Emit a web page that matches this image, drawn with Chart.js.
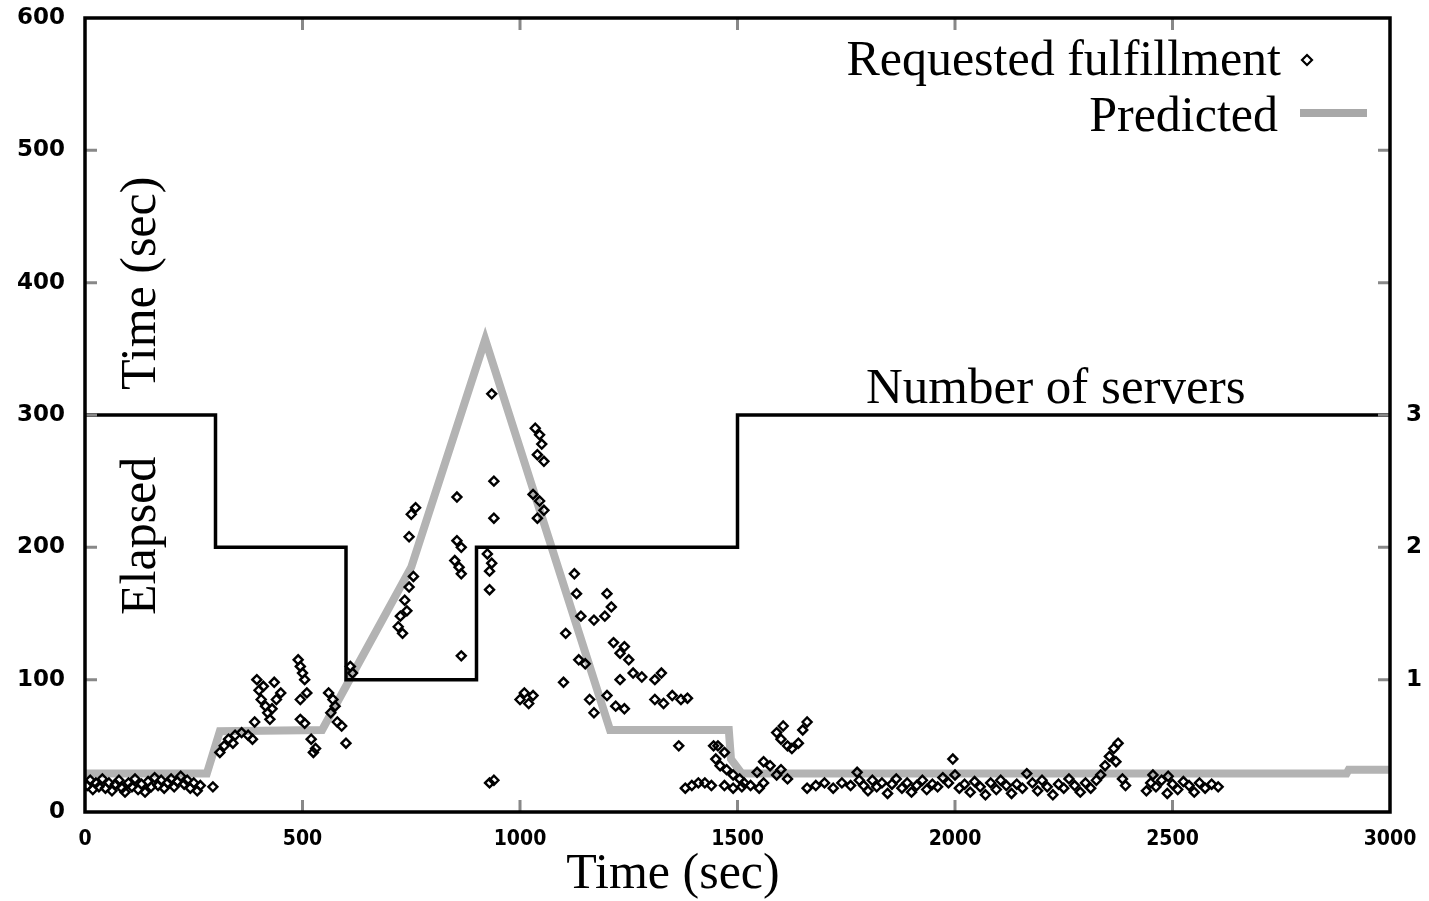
<!DOCTYPE html>
<html>
  <head>
    <meta charset="UTF-8" />
    <title>Elapsed time</title>
    <script src="https://cdn.jsdelivr.net/npm/chart.js"></script>
    <style>
      html, body { margin: 0; padding: 0; background: #fff; }
    </style>
  </head>
  <body>
    <canvas id="chart" width="1429" height="901"></canvas>

    <script>
      // requested fulfillment: [time (sec), elapsed (sec)]
      const requestedPoints = [
        [5,20],[12,24],[18,17],[25,22],[32,19],[40,25],[47,18],[55,22],[62,16],[70,21],[78,24],[85,18],
        [92,15],[100,22],[108,19],[115,25],[122,17],[130,21],[138,15],[145,23],[152,19],[160,26],[168,20],
        [175,24],[182,18],[190,22],[198,25],[205,19],[212,23],[220,27],[228,21],[235,24],[242,18],[250,22],
        [258,16],[265,20],[294,19],
        [310,45],[320,50],[330,55],[345,58],[360,60],[375,58],[385,55],[340,52],
        [390,68],[395,100],[400,92],[405,85],[410,95],[415,80],[420,75],[425,70],[430,78],[440,85],[450,90],[435,98],
        [490,115],[495,110],[500,105],[505,100],[510,90],[495,85],[495,70],[505,67],
        [520,55],[530,48],[525,45],
        [560,90],[570,85],[575,80],[565,75],[580,68],[590,65],
        [600,52],[610,110],[615,105],
        [720,140],[725,148],[730,135],[735,160],[740,152],[745,170],[755,178],[745,208],[750,225],[760,230],
        [855,238],[855,205],[865,200],[850,190],[860,185],[865,180],[865,118],
        [935,316],[940,250],[940,222],[925,195],[935,188],[930,182],[930,168],[930,22],[940,24],
        [1000,85],[1010,90],[1020,82],[1030,88],
        [1035,290],[1045,285],[1050,278],[1040,270],[1055,265],
        [1030,240],[1045,235],[1055,228],[1040,222],
        [1125,180],[1130,165],[1200,165],[1210,155],[1140,148],[1170,145],[1195,148],[1105,135],
        [1215,128],[1230,120],[1250,115],[1240,125],[1135,115],[1150,112],[1100,98],
        [1230,100],[1260,105],[1280,102],[1310,100],[1325,105],
        [1160,85],[1170,75],[1200,88],[1220,80],[1240,78],
        [1310,85],[1330,82],[1350,88],[1370,85],[1385,86],
        [1365,50],[1455,50],[1470,45],
        [1380,18],[1395,20],[1410,22],[1425,22],[1440,20],
        [1445,50],[1450,40],[1460,35],[1475,32],[1490,28],[1505,25],[1515,22],
        [1470,20],[1490,18],[1510,19],[1530,20],[1550,18],[1560,22],
        [1545,30],[1560,38],[1575,35],[1590,28],[1600,32],[1615,25],
        [1590,60],[1600,55],[1605,65],[1615,50],[1625,48],[1640,52],[1650,62],[1660,68],
        [1660,18],[1680,20],[1700,22],[1720,18],[1740,22],[1760,20],[1780,24],[1775,30],
        [1790,20],[1800,16],[1810,24],[1820,19],[1832,22],[1845,14],[1855,21],[1865,25],[1878,18],[1890,22],
        [1900,15],[1912,20],[1925,24],[1935,17],[1948,21],[1960,19],[1972,26],[1985,22],[1995,40],[2000,28],
        [2010,18],[2022,21],[2035,15],[2045,23],[2058,19],[2070,13],[2082,22],[2095,17],[2105,24],[2118,20],
        [2130,14],[2142,21],[2155,18],[2165,29],[2178,22],[2190,16],[2200,24],[2212,19],[2225,13],[2238,21],
        [2250,18],[2262,25],[2275,20],[2288,15],[2300,22],[2312,18],[2325,24],[2335,28],[2345,35],[2355,42],
        [2365,48],[2375,52],[2370,38],[2385,25],[2392,20],[2440,16],[2450,22],[2462,19],[2475,24],[2488,14],
        [2500,21],[2512,17],[2525,23],[2538,20],[2550,15],[2562,22],[2575,18],[2590,21],[2605,19],[2455,28],[2490,27]
      ];

      const predictedTimes = [0, 280, 310, 545, 600, 750, 920, 1207, 1480, 1485, 1510, 2900, 2905, 3000];
      const predictedValues = [29, 29, 61, 62, 95, 185, 357, 62, 62, 40, 29, 29, 32, 32];

      const serverTimes = [0, 300, 600, 900, 1500, 3000];
      const serverCounts = [3, 2, 1, 2, 3, 3];

      const xTicks = [0, 500, 1000, 1500, 2000, 2500, 3000];
      const yTicks = [0, 100, 200, 300, 400, 500, 600];
      const serverTicks = [1, 2, 3];

      const serif = "'Liberation Serif', 'DejaVu Serif', serif";

      // frame, inward ticks and the texts gnuplot puts inside the plot
      const decorPlugin = {
        id: "decor",
        afterDraw(chart) {
          const ctx = chart.ctx;
          const a = chart.chartArea;
          const x = chart.scales.x;
          const y = chart.scales.y;
          ctx.save();

          ctx.strokeStyle = "#888";
          ctx.lineWidth = 3;
          ctx.beginPath();
          xTicks.slice(1, -1).forEach((v) => {
            const px = x.getPixelForValue(v);
            ctx.moveTo(px, a.bottom);
            ctx.lineTo(px, a.bottom - 12);
            ctx.moveTo(px, a.top);
            ctx.lineTo(px, a.top + 12);
          });
          yTicks.slice(1, -1).forEach((v) => {
            const py = y.getPixelForValue(v);
            ctx.moveTo(a.left, py);
            ctx.lineTo(a.left + 12, py);
            ctx.moveTo(a.right, py);
            ctx.lineTo(a.right - 12, py);
          });
          ctx.stroke();

          ctx.strokeStyle = "#000";
          ctx.lineWidth = 3.5;
          ctx.strokeRect(a.left, a.top, a.right - a.left, a.bottom - a.top);

          ctx.fillStyle = "#000";
          ctx.font = "50px " + serif;
          ctx.textBaseline = "alphabetic";

          ctx.textAlign = "center";
          ctx.fillText("Time (sec)", 673, 888);

          ctx.textAlign = "left";
          ctx.font = "51px " + serif;
          ctx.fillText("Number of servers", 866, 403);
          ctx.font = "50px " + serif;

          ctx.textAlign = "right";
          ctx.fillText("Requested fulfillment", 1281, 75);
          ctx.fillText("Predicted", 1278, 131);

          // legend samples
          ctx.strokeStyle = "#a8a8a8";
          ctx.lineWidth = 8;
          ctx.beginPath();
          ctx.moveTo(1300, 113);
          ctx.lineTo(1367, 113);
          ctx.stroke();
          ctx.strokeStyle = "#000";
          ctx.lineWidth = 2.2;
          ctx.beginPath();
          ctx.moveTo(1307, 55);
          ctx.lineTo(1312, 60);
          ctx.lineTo(1307, 65);
          ctx.lineTo(1302, 60);
          ctx.closePath();
          ctx.stroke();

          // y title, rotated, inside the plot
          ctx.translate(142, 0);
          ctx.rotate(-Math.PI / 2);
          ctx.textAlign = "left";
          ctx.textBaseline = "middle";
          ctx.fillText("Elapsed", -615, 0);
          ctx.fillText("Time (sec)", -390, 0);

          ctx.restore();
        },
      };

      new Chart(document.getElementById("chart"), {
        type: "scatter",
        data: {
          datasets: [
            {
              label: "Requested fulfillment",
              data: requestedPoints.map((p) => ({ x: p[0], y: p[1] })),
              pointStyle: "rectRot",
              pointRadius: 4.5,
              borderColor: "#000",
              backgroundColor: "rgba(0,0,0,0)",
              borderWidth: 2.4,
              yAxisID: "y",
              order: 1,
            },
            {
              type: "line",
              label: "Number of servers",
              data: serverTimes.map((t, i) => ({ x: t, y: serverCounts[i] })),
              stepped: true,
              borderColor: "#000",
              borderWidth: 3.5,
              pointRadius: 0,
              fill: false,
              yAxisID: "y2",
              order: 2,
            },
            {
              type: "line",
              label: "Predicted",
              data: predictedTimes.map((t, i) => ({ x: t, y: predictedValues[i] })),
              borderColor: "#b3b3b3",
              borderWidth: 8,
              pointRadius: 0,
              fill: false,
              tension: 0,
              yAxisID: "y",
              order: 3,
            },
          ],
        },
        options: {
          responsive: false,
          animation: false,
          layout: { padding: { top: 18, left: 0, right: 0, bottom: 0 } },
          plugins: {
            legend: { display: false },
            tooltip: { enabled: false },
          },
          scales: {
            x: {
              type: "linear",
              min: 0,
              max: 3000,
              afterBuildTicks: (s) => { s.ticks = xTicks.map((v) => ({ value: v })); },
              afterFit: (s) => { s.height = 89; },
              grid: { display: false },
              border: { display: false },
              ticks: {
                padding: 7,
                maxRotation: 0,
                autoSkip: false,
                color: "#000",
                callback: (v) => String(v),
                font: { family: "'DejaVu Sans Condensed', 'DejaVu Sans', sans-serif", size: 21, weight: "bold" },
              },
            },
            y: {
              position: "left",
              min: 0,
              max: 600,
              afterBuildTicks: (s) => { s.ticks = yTicks.map((v) => ({ value: v })); },
              afterFit: (s) => { s.width = 85; s.paddingTop = 0; s.paddingBottom = 0; },
              grid: { display: false },
              border: { display: false },
              ticks: {
                padding: 12,
                color: "#000",
                callback: (v) => String(v),
                font: { family: "'DejaVu Sans', sans-serif", size: 23, weight: "bold", lineHeight: 0.4 },
              },
            },
            y2: {
              position: "right",
              min: 0,
              max: 6,
              afterBuildTicks: (s) => { s.ticks = serverTicks.map((v) => ({ value: v })); },
              afterFit: (s) => { s.width = 39; s.paddingTop = 0; s.paddingBottom = 0; },
              grid: { display: false },
              border: { display: false },
              ticks: {
                padding: 8,
                color: "#000",
                font: { family: "'DejaVu Sans', sans-serif", size: 23, weight: "bold", lineHeight: 0.4 },
              },
            },
          },
        },
        plugins: [decorPlugin],
      });
    </script>
  </body>
</html>
